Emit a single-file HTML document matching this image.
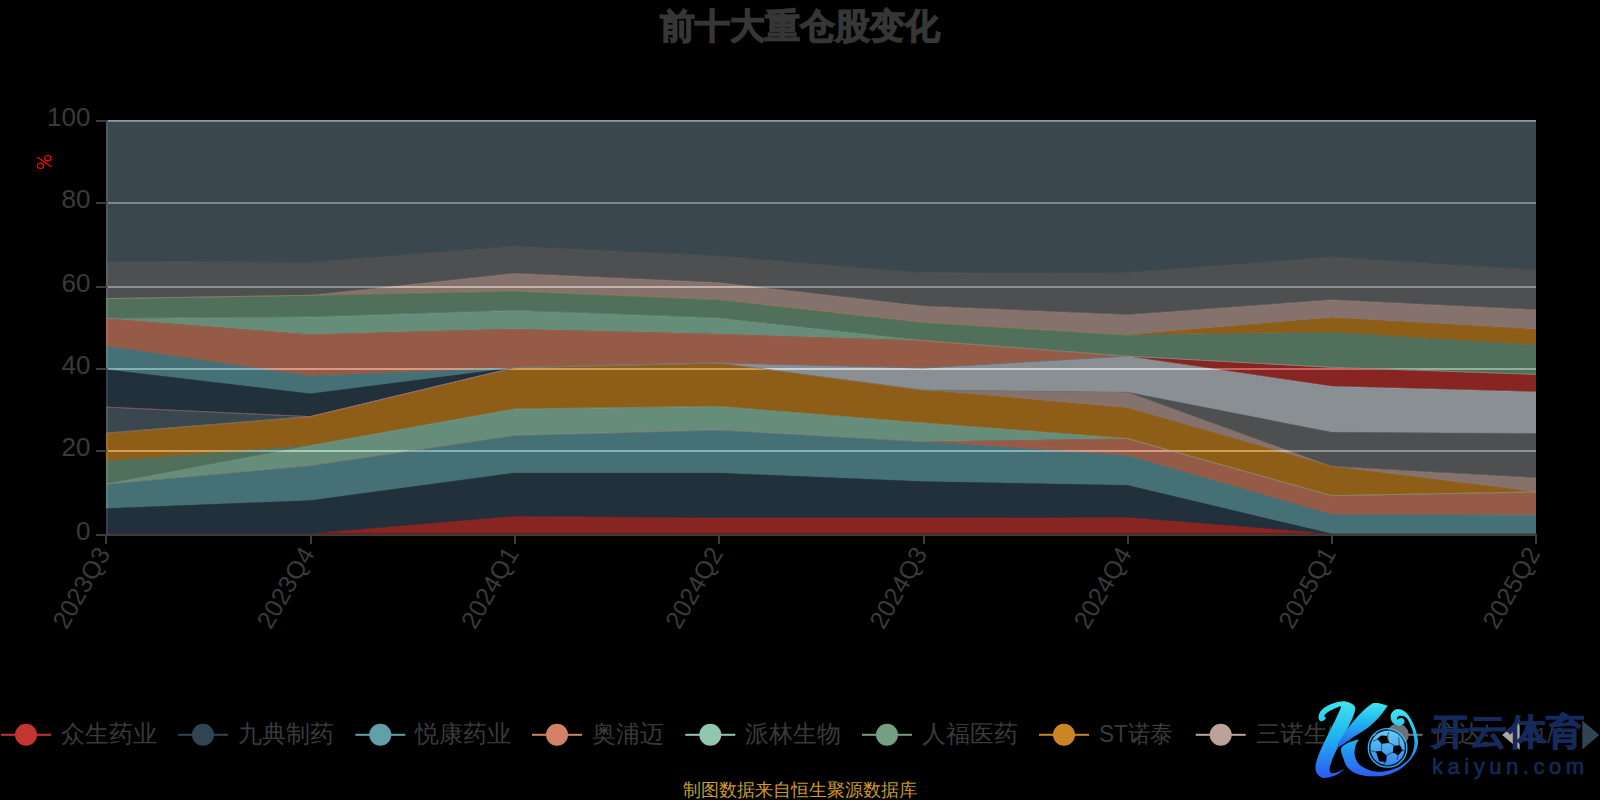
<!DOCTYPE html>
<html><head><meta charset="utf-8"><title>前十大重仓股变化</title>
<style>
html,body{margin:0;padding:0;background:#000;width:1600px;height:800px;overflow:hidden}
svg{display:block}
text{font-family:"Liberation Sans",sans-serif}
.ax{font-size:25px;fill:#3a3a3a}
.ay{font-size:26px;fill:#3a3a3a}
.lg{font-size:24px;fill:#3a3a3a}
.ttl{font-size:35px;font-weight:bold;fill:#363636;stroke:#363636;stroke-width:1.3}
.ft{font-size:18px;fill:#c99a2e}
</style></head>
<body>
<svg width="1600" height="800" viewBox="0 0 1600 800">
<rect width="1600" height="800" fill="#000"/>
<text x="800" y="37.5" text-anchor="middle" class="ttl">前十大重仓股变化</text>
<rect x="106" y="120" width="1430" height="2" fill="#d6d6d6"/><rect x="106" y="202" width="1430" height="2" fill="#d6d6d6"/><rect x="106" y="286" width="1430" height="2" fill="#d6d6d6"/><rect x="106" y="368" width="1430" height="2" fill="#d6d6d6"/><rect x="106" y="450" width="1430" height="2" fill="#d6d6d6"/><rect x="106" y="120" width="2" height="415" fill="#3c3c3c"/>
<polygon points="106,533.8 310.29,533.8 514.57,516.41 718.86,518.03 923.14,518.03 1127.43,517.61 1331.71,533.8 1536,533.8 1536,533.8 1331.71,533.8 1127.43,533.8 923.14,533.8 718.86,533.8 514.57,533.8 310.29,533.8 106,533.8" fill="#c23531" fill-opacity="0.7"/>
<polygon points="106,508.59 310.29,500.39 514.57,472.98 718.86,472.98 923.14,481.59 1127.43,485.32 1331.71,533.8 1536,533.8 1536,533.8 1331.71,533.8 1127.43,517.61 923.14,518.03 718.86,518.03 514.57,516.41 310.29,533.8 106,533.8" fill="#2f4554" fill-opacity="0.7"/>
<polygon points="106,484.08 310.29,465.61 514.57,435.39 718.86,430.01 923.14,441.6 1127.43,455.51 1331.71,514.38 1536,515 1536,533.8 1331.71,533.8 1127.43,485.32 923.14,481.59 718.86,472.98 514.57,472.98 310.29,500.39 106,508.59" fill="#61a0a8" fill-opacity="0.7"/>
<polygon points="106,484.08 310.29,465.61 514.57,435.39 718.86,430.01 923.14,441.6 1127.43,438.54 1331.71,495.67 1536,491.94 1536,515 1331.71,514.38 1127.43,455.51 923.14,441.6 718.86,430.01 514.57,435.39 310.29,465.61 106,484.08" fill="#d48265" fill-opacity="0.7"/>
<polygon points="106,484.08 310.29,445.58 514.57,409.02 718.86,406.41 923.14,423.01 1127.43,438.54 1331.71,495.67 1536,491.94 1536,491.94 1331.71,495.67 1127.43,438.54 923.14,441.6 718.86,430.01 514.57,435.39 310.29,465.61 106,484.08" fill="#91c7ae" fill-opacity="0.7"/>
<polygon points="106,460.89 310.29,445.58 514.57,409.02 718.86,406.41 923.14,423.01 1127.43,438.54 1331.71,495.67 1536,491.94 1536,491.94 1331.71,495.67 1127.43,438.54 923.14,423.01 718.86,406.41 514.57,409.02 310.29,445.58 106,484.08" fill="#749f83" fill-opacity="0.7"/>
<polygon points="106,433.16 310.29,416.6 514.57,367.62 718.86,362.98 923.14,390.1 1127.43,407.9 1331.71,466.4 1536,491.94 1536,491.94 1331.71,495.67 1127.43,438.54 923.14,423.01 718.86,406.41 514.57,409.02 310.29,445.58 106,460.89" fill="#ca8622" fill-opacity="0.7"/>
<polygon points="106,433.16 310.29,416.6 514.57,367.62 718.86,362.98 923.14,390.1 1127.43,392.17 1331.71,466.4 1536,477.87 1536,491.94 1331.71,466.4 1127.43,407.9 923.14,390.1 718.86,362.98 514.57,367.62 310.29,416.6 106,433.16" fill="#bda29a" fill-opacity="0.7"/>
<polygon points="106,433.16 310.29,416.6 514.57,367.62 718.86,362.98 923.14,390.1 1127.43,392.17 1331.71,432.33 1536,433.57 1536,477.87 1331.71,466.4 1127.43,392.17 923.14,390.1 718.86,362.98 514.57,367.62 310.29,416.6 106,433.16" fill="#6e7074" fill-opacity="0.7"/>
<polygon points="106,407.07 310.29,416.6 514.57,367.62 718.86,362.98 923.14,390.1 1127.43,392.17 1331.71,432.33 1536,433.57 1536,433.57 1331.71,432.33 1127.43,392.17 923.14,390.1 718.86,362.98 514.57,367.62 310.29,416.6 106,433.16" fill="#546570" fill-opacity="0.7"/>
<polygon points="106,407.07 310.29,416.6 514.57,367.62 718.86,362.98 923.14,367.99 1127.43,356.15 1331.71,386.37 1536,391.76 1536,433.57 1331.71,432.33 1127.43,392.17 923.14,390.1 718.86,362.98 514.57,367.62 310.29,416.6 106,407.07" fill="#c4ccd3" fill-opacity="0.7"/>
<polygon points="106,407.07 310.29,416.6 514.57,367.62 718.86,362.98 923.14,367.99 1127.43,356.15 1331.71,367.33 1536,374.37 1536,391.76 1331.71,386.37 1127.43,356.15 923.14,367.99 718.86,362.98 514.57,367.62 310.29,416.6 106,407.07" fill="#c23531" fill-opacity="0.7"/>
<polygon points="106,369.4 310.29,393.83 514.57,367.62 718.86,362.98 923.14,367.99 1127.43,356.15 1331.71,367.33 1536,374.37 1536,374.37 1331.71,367.33 1127.43,356.15 923.14,367.99 718.86,362.98 514.57,367.62 310.29,416.6 106,407.07" fill="#2f4554" fill-opacity="0.7"/>
<polygon points="106,346.01 310.29,376.02 514.57,367.62 718.86,362.98 923.14,367.99 1127.43,356.15 1331.71,367.33 1536,374.37 1536,374.37 1331.71,367.33 1127.43,356.15 923.14,367.99 718.86,362.98 514.57,367.62 310.29,393.83 106,369.4" fill="#61a0a8" fill-opacity="0.7"/>
<polygon points="106,318.48 310.29,334.42 514.57,328.99 718.86,334 923.14,340.59 1127.43,356.15 1331.71,367.33 1536,374.37 1536,374.37 1331.71,367.33 1127.43,356.15 923.14,367.99 718.86,362.98 514.57,367.62 310.29,376.02 106,346.01" fill="#d48265" fill-opacity="0.7"/>
<polygon points="106,318.48 310.29,316.99 514.57,310.41 718.86,318.06 923.14,340.59 1127.43,356.15 1331.71,367.33 1536,374.37 1536,374.37 1331.71,367.33 1127.43,356.15 923.14,340.59 718.86,334 514.57,328.99 310.29,334.42 106,318.48" fill="#91c7ae" fill-opacity="0.7"/>
<polygon points="106,298.61 310.29,295.29 514.57,291.15 718.86,299.6 923.14,322.41 1127.43,335.04 1331.71,332.14 1536,344.97 1536,374.37 1331.71,367.33 1127.43,356.15 923.14,340.59 718.86,318.06 514.57,310.41 310.29,316.99 106,318.48" fill="#749f83" fill-opacity="0.7"/>
<polygon points="106,298.61 310.29,295.29 514.57,291.15 718.86,299.6 923.14,322.41 1127.43,335.04 1331.71,317.65 1536,329.41 1536,344.97 1331.71,332.14 1127.43,335.04 923.14,322.41 718.86,299.6 514.57,291.15 310.29,295.29 106,298.61" fill="#ca8622" fill-opacity="0.7"/>
<polygon points="106,298.61 310.29,295.29 514.57,273.35 718.86,282.58 923.14,306.06 1127.43,314.75 1331.71,299.85 1536,309.78 1536,329.41 1331.71,317.65 1127.43,335.04 923.14,322.41 718.86,299.6 514.57,291.15 310.29,295.29 106,298.61" fill="#bda29a" fill-opacity="0.7"/>
<polygon points="106,261.76 310.29,262.38 514.57,246.03 718.86,255.96 923.14,272.94 1127.43,272.52 1331.71,257 1536,270.04 1536,309.78 1331.71,299.85 1127.43,314.75 923.14,306.06 718.86,282.58 514.57,273.35 310.29,295.29 106,298.61" fill="#6e7074" fill-opacity="0.7"/>
<polygon points="106,120.2 310.29,120.2 514.57,120.2 718.86,120.2 923.14,120.2 1127.43,120.2 1331.71,120.2 1536,120.2 1536,270.04 1331.71,257 1127.43,272.52 923.14,272.94 718.86,255.96 514.57,246.03 310.29,262.38 106,261.76" fill="#546570" fill-opacity="0.7"/>
<polyline points="106,533.8 310.29,533.8 514.57,516.41 718.86,518.03 923.14,518.03 1127.43,517.61 1331.71,533.8 1536,533.8" fill="none" stroke="#c23531" stroke-width="1" stroke-opacity="0.3"/>
<polyline points="106,508.59 310.29,500.39 514.57,472.98 718.86,472.98 923.14,481.59 1127.43,485.32 1331.71,533.8 1536,533.8" fill="none" stroke="#2f4554" stroke-width="1" stroke-opacity="0.3"/>
<polyline points="106,484.08 310.29,465.61 514.57,435.39 718.86,430.01 923.14,441.6 1127.43,455.51 1331.71,514.38 1536,515" fill="none" stroke="#61a0a8" stroke-width="1" stroke-opacity="0.3"/>
<polyline points="106,484.08 310.29,465.61 514.57,435.39 718.86,430.01 923.14,441.6 1127.43,438.54 1331.71,495.67 1536,491.94" fill="none" stroke="#d48265" stroke-width="1" stroke-opacity="0.3"/>
<polyline points="106,484.08 310.29,445.58 514.57,409.02 718.86,406.41 923.14,423.01 1127.43,438.54 1331.71,495.67 1536,491.94" fill="none" stroke="#91c7ae" stroke-width="1" stroke-opacity="0.3"/>
<polyline points="106,460.89 310.29,445.58 514.57,409.02 718.86,406.41 923.14,423.01 1127.43,438.54 1331.71,495.67 1536,491.94" fill="none" stroke="#749f83" stroke-width="1" stroke-opacity="0.3"/>
<polyline points="106,433.16 310.29,416.6 514.57,367.62 718.86,362.98 923.14,390.1 1127.43,407.9 1331.71,466.4 1536,491.94" fill="none" stroke="#ca8622" stroke-width="1" stroke-opacity="0.3"/>
<polyline points="106,433.16 310.29,416.6 514.57,367.62 718.86,362.98 923.14,390.1 1127.43,392.17 1331.71,466.4 1536,477.87" fill="none" stroke="#bda29a" stroke-width="1" stroke-opacity="0.3"/>
<polyline points="106,433.16 310.29,416.6 514.57,367.62 718.86,362.98 923.14,390.1 1127.43,392.17 1331.71,432.33 1536,433.57" fill="none" stroke="#6e7074" stroke-width="1" stroke-opacity="0.3"/>
<polyline points="106,407.07 310.29,416.6 514.57,367.62 718.86,362.98 923.14,390.1 1127.43,392.17 1331.71,432.33 1536,433.57" fill="none" stroke="#546570" stroke-width="1" stroke-opacity="0.3"/>
<polyline points="106,407.07 310.29,416.6 514.57,367.62 718.86,362.98 923.14,367.99 1127.43,356.15 1331.71,386.37 1536,391.76" fill="none" stroke="#c4ccd3" stroke-width="1" stroke-opacity="0.3"/>
<polyline points="106,407.07 310.29,416.6 514.57,367.62 718.86,362.98 923.14,367.99 1127.43,356.15 1331.71,367.33 1536,374.37" fill="none" stroke="#c23531" stroke-width="1" stroke-opacity="0.3"/>
<polyline points="106,369.4 310.29,393.83 514.57,367.62 718.86,362.98 923.14,367.99 1127.43,356.15 1331.71,367.33 1536,374.37" fill="none" stroke="#2f4554" stroke-width="1" stroke-opacity="0.3"/>
<polyline points="106,346.01 310.29,376.02 514.57,367.62 718.86,362.98 923.14,367.99 1127.43,356.15 1331.71,367.33 1536,374.37" fill="none" stroke="#61a0a8" stroke-width="1" stroke-opacity="0.3"/>
<polyline points="106,318.48 310.29,334.42 514.57,328.99 718.86,334 923.14,340.59 1127.43,356.15 1331.71,367.33 1536,374.37" fill="none" stroke="#d48265" stroke-width="1" stroke-opacity="0.3"/>
<polyline points="106,318.48 310.29,316.99 514.57,310.41 718.86,318.06 923.14,340.59 1127.43,356.15 1331.71,367.33 1536,374.37" fill="none" stroke="#91c7ae" stroke-width="1" stroke-opacity="0.3"/>
<polyline points="106,298.61 310.29,295.29 514.57,291.15 718.86,299.6 923.14,322.41 1127.43,335.04 1331.71,332.14 1536,344.97" fill="none" stroke="#749f83" stroke-width="1" stroke-opacity="0.3"/>
<polyline points="106,298.61 310.29,295.29 514.57,291.15 718.86,299.6 923.14,322.41 1127.43,335.04 1331.71,317.65 1536,329.41" fill="none" stroke="#ca8622" stroke-width="1" stroke-opacity="0.3"/>
<polyline points="106,298.61 310.29,295.29 514.57,273.35 718.86,282.58 923.14,306.06 1127.43,314.75 1331.71,299.85 1536,309.78" fill="none" stroke="#bda29a" stroke-width="1" stroke-opacity="0.3"/>
<polyline points="106,261.76 310.29,262.38 514.57,246.03 718.86,255.96 923.14,272.94 1127.43,272.52 1331.71,257 1536,270.04" fill="none" stroke="#6e7074" stroke-width="1" stroke-opacity="0.3"/>
<rect x="106" y="534" width="1431" height="2" fill="#3c3c3c"/><rect x="105" y="534" width="2" height="10" fill="#3c3c3c"/><rect x="310" y="534" width="2" height="10" fill="#3c3c3c"/><rect x="514" y="534" width="2" height="10" fill="#3c3c3c"/><rect x="718" y="534" width="2" height="10" fill="#3c3c3c"/><rect x="923" y="534" width="2" height="10" fill="#3c3c3c"/><rect x="1127" y="534" width="2" height="10" fill="#3c3c3c"/><rect x="1331" y="534" width="2" height="10" fill="#3c3c3c"/><rect x="1535" y="534" width="2" height="10" fill="#3c3c3c"/><rect x="96" y="120" width="11" height="2" fill="#3c3c3c"/><rect x="96" y="202" width="11" height="2" fill="#3c3c3c"/><rect x="96" y="286" width="11" height="2" fill="#3c3c3c"/><rect x="96" y="368" width="11" height="2" fill="#3c3c3c"/><rect x="96" y="450" width="11" height="2" fill="#3c3c3c"/><rect x="96" y="534" width="11" height="2" fill="#3c3c3c"/><text x="90.5" y="125.5" text-anchor="end" class="ay">100</text><text x="90.5" y="207.5" text-anchor="end" class="ay">80</text><text x="90.5" y="291.5" text-anchor="end" class="ay">60</text><text x="90.5" y="373.5" text-anchor="end" class="ay">40</text><text x="90.5" y="455.5" text-anchor="end" class="ay">20</text><text x="90.5" y="539.5" text-anchor="end" class="ay">0</text><text transform="translate(104,549.5) rotate(-60)" text-anchor="end" class="ax" dy="8">2023Q3</text><text transform="translate(308.29,549.5) rotate(-60)" text-anchor="end" class="ax" dy="8">2023Q4</text><text transform="translate(512.57,549.5) rotate(-60)" text-anchor="end" class="ax" dy="8">2024Q1</text><text transform="translate(716.86,549.5) rotate(-60)" text-anchor="end" class="ax" dy="8">2024Q2</text><text transform="translate(921.14,549.5) rotate(-60)" text-anchor="end" class="ax" dy="8">2024Q3</text><text transform="translate(1125.43,549.5) rotate(-60)" text-anchor="end" class="ax" dy="8">2024Q4</text><text transform="translate(1329.71,549.5) rotate(-60)" text-anchor="end" class="ax" dy="8">2025Q1</text><text transform="translate(1534,549.5) rotate(-60)" text-anchor="end" class="ax" dy="8">2025Q2</text>
<g fill="none" stroke="#ff0000" stroke-width="1.15"><ellipse cx="47.8" cy="158.2" rx="3.1" ry="2.7"/><ellipse cx="40.4" cy="165.8" rx="3.1" ry="2.7"/><line x1="37" y1="157" x2="51.2" y2="166.8"/></g>
<clipPath id="lc"><rect x="0" y="700" width="1488" height="70"/></clipPath><g clip-path="url(#lc)"><rect x="1" y="733.8" width="50" height="2" fill="#c23531"/><circle cx="26" cy="734.8" r="11" fill="#c23531"/><text x="61" y="741.5" class="lg">众生药业</text><rect x="178" y="733.8" width="50" height="2" fill="#2f4554"/><circle cx="203" cy="734.8" r="11" fill="#2f4554"/><text x="238" y="741.5" class="lg">九典制药</text><rect x="355.3" y="733.8" width="50" height="2" fill="#61a0a8"/><circle cx="380.3" cy="734.8" r="11" fill="#61a0a8"/><text x="415.3" y="741.5" class="lg">悦康药业</text><rect x="532" y="733.8" width="50" height="2" fill="#d48265"/><circle cx="557" cy="734.8" r="11" fill="#d48265"/><text x="592" y="741.5" class="lg">奥浦迈</text><rect x="685.3" y="733.8" width="50" height="2" fill="#91c7ae"/><circle cx="710.3" cy="734.8" r="11" fill="#91c7ae"/><text x="745.3" y="741.5" class="lg">派林生物</text><rect x="862" y="733.8" width="50" height="2" fill="#749f83"/><circle cx="887" cy="734.8" r="11" fill="#749f83"/><text x="922" y="741.5" class="lg">人福医药</text><rect x="1039" y="733.8" width="50" height="2" fill="#ca8622"/><circle cx="1064" cy="734.8" r="11" fill="#ca8622"/><text x="1099" y="741.5" class="lg" textLength="74" lengthAdjust="spacingAndGlyphs">ST诺泰</text><rect x="1195.7" y="733.8" width="50" height="2" fill="#bda29a"/><circle cx="1220.7" cy="734.8" r="11" fill="#bda29a"/><text x="1255.7" y="741.5" class="lg">三诺生物</text><rect x="1372.7" y="733.8" width="50" height="2" fill="#6e7074"/><circle cx="1397.7" cy="734.8" r="11" fill="#6e7074"/><text x="1432.7" y="741.5" class="lg">信达生物</text></g>
<text x="800" y="796" text-anchor="middle" class="ft">制图数据来自恒生聚源数据库</text>

<defs>
<linearGradient id="kg" x1="0" y1="0" x2="0" y2="1">
<stop offset="0" stop-color="#3ee6ec"/><stop offset="0.45" stop-color="#1fb4f2"/><stop offset="1" stop-color="#2b5cf0"/>
</linearGradient>
<linearGradient id="bg" x1="0" y1="0" x2="0" y2="1">
<stop offset="0" stop-color="#62cdf6"/><stop offset="1" stop-color="#3486ee"/>
</linearGradient>
</defs>
<g>
<!-- page info + arrows (under logo) -->
<text x="1535" y="743" style="font-size:22px;fill:#333">1/2</text>
<polygon points="1502.2,735 1519.6,719.8 1519.6,749.7" fill="#aaaaaa"/>
<polygon points="1599.3,735 1582.3,720.5 1582.3,749.4" fill="#2f4554"/>
</g>
<g>
<path fill="url(#kg)" d="M1354.1,705.6 C1352.5,703.9 1348.9,701.6 1345.1,701.4 C1341.3,701.1 1335.2,702.6 1331.3,704.0 C1327.4,705.4 1323.8,707.8 1321.7,709.9 C1319.6,711.9 1318.8,714.4 1318.5,716.3 C1318.2,718.1 1319.2,720.3 1320.1,721.0 C1321.0,721.7 1322.8,721.0 1323.8,720.5 C1324.8,720.0 1325.9,718.6 1325.9,717.8 C1326.0,717.1 1324.0,716.7 1324.3,715.7 C1324.7,714.7 1326.0,713.3 1328.1,712.0 C1330.1,710.7 1334.4,708.5 1336.6,707.8 C1338.7,707.0 1341.0,705.3 1340.8,707.2 C1340.6,709.2 1337.8,714.6 1335.5,719.4 C1333.2,724.3 1329.7,731.0 1327.0,736.4 C1324.3,741.9 1321.4,747.8 1319.6,752.4 C1317.7,757.0 1316.4,760.7 1315.8,764.1 C1315.3,767.4 1315.2,770.3 1316.4,772.6 C1317.5,774.9 1319.7,777.4 1322.8,777.9 C1325.8,778.4 1330.9,777.2 1334.4,775.8 C1338.0,774.3 1343.7,769.9 1344.0,769.4 C1344.4,768.9 1338.7,772.0 1336.6,772.6 C1334.4,773.2 1332.4,773.6 1331.3,773.1 C1330.1,772.6 1329.7,770.9 1329.7,769.4 C1329.6,767.9 1329.9,766.6 1330.7,764.1 C1331.5,761.6 1332.6,758.6 1334.4,754.5 C1336.3,750.4 1339.2,744.9 1341.9,739.6 C1344.5,734.3 1348.3,727.2 1350.4,722.6 C1352.5,718.0 1354.0,714.8 1354.6,712.0 C1355.3,709.2 1355.7,707.4 1354.1,705.6Z"/>
<path fill="url(#kg)" d="M1386.8,705.6 C1385.1,705.0 1379.5,703.2 1376.7,703.1 C1373.9,703.0 1373.2,702.8 1370.0,705.0 C1366.9,707.2 1362.0,711.7 1357.8,716.3 C1353.7,720.8 1348.4,727.1 1345.1,732.2 C1341.7,737.3 1336.2,746.2 1337.6,747.0 C1339.1,747.7 1348.4,740.2 1353.8,736.7 C1359.2,733.2 1365.7,729.4 1370.0,725.9 C1374.4,722.5 1377.2,719.2 1380.0,716.0 C1382.8,712.9 1385.8,708.5 1386.9,706.8 C1388.1,705.1 1388.5,706.2 1386.8,705.6Z"/>
<path fill="url(#kg)" d="M1341.9,747.1 C1339.5,750.3 1342.4,755.2 1343.5,758.8 C1344.5,762.3 1345.9,765.8 1348.3,768.3 C1350.6,770.9 1353.9,772.8 1357.8,774.2 C1361.7,775.5 1366.9,776.2 1371.6,776.3 C1376.4,776.4 1381.7,776.2 1386.5,774.9 C1391.3,773.7 1396.1,771.7 1400.3,768.9 C1404.6,766.0 1409.1,761.7 1412.0,757.7 C1414.9,753.7 1417.0,748.9 1417.8,744.9 C1418.5,740.9 1417.5,737.4 1416.7,733.7 C1415.8,729.9 1414.4,726.1 1412.7,722.5 C1410.9,719.0 1408.4,714.7 1406.0,712.4 C1403.5,710.2 1400.4,709.0 1398.1,709.0 C1395.8,709.0 1393.2,710.8 1391.9,712.4 C1390.7,714.0 1390.5,716.7 1390.8,718.6 C1391.0,720.5 1392.2,722.4 1393.6,723.6 C1395.0,724.8 1397.5,725.9 1399.2,725.9 C1400.8,725.9 1402.9,724.5 1403.7,723.6 C1404.6,722.6 1404.6,721.1 1404.3,720.2 C1403.9,719.2 1402.5,718.1 1401.5,718.0 C1400.5,717.8 1398.8,718.8 1398.1,719.1 C1397.4,719.5 1397.1,720.6 1397.0,720.2 C1396.9,719.8 1396.8,717.6 1397.6,716.9 C1398.3,716.1 1400.0,715.5 1401.5,715.7 C1403.0,715.9 1405.1,716.4 1406.6,718.0 C1408.1,719.5 1409.4,722.7 1410.5,725.3 C1411.6,727.9 1412.7,730.4 1413.3,733.7 C1413.9,737.0 1414.9,740.9 1414.4,744.9 C1413.8,748.9 1412.6,754.0 1409.9,757.7 C1407.2,761.4 1402.6,765.0 1398.2,767.3 C1393.8,769.6 1388.1,771.0 1383.3,771.5 C1378.5,772.0 1373.6,771.5 1369.5,770.2 C1365.4,769.0 1361.4,766.7 1358.9,764.1 C1356.4,761.5 1355.2,757.7 1354.6,754.5 C1354.1,751.3 1355.2,747.4 1355.7,744.9 C1356.2,742.5 1360.1,739.3 1357.8,739.6 C1355.5,740.0 1344.3,743.9 1341.9,747.1Z"/>
<circle cx="1387.6" cy="747.9" r="19.3" fill="none" stroke="#39b4f2" stroke-width="1.3"/>
<path fill="url(#bg)" fill-rule="evenodd" d="M1370.0,747.9 A17.6,17.6 0 1,0 1405.2,747.9 A17.6,17.6 0 1,0 1370.0,747.9 Z M1377.2,738.8 L1381.5,735.0 L1388.5,736.0 L1389.2,743.1 L1381.5,743.8Z M1393.5,745.4 L1399.8,744.7 L1402.6,750.3 L1398.4,755.2 L1392.8,752.4Z M1375.9,751.5 L1381.2,750.8 L1386.8,755.7 L1386.1,762.0 L1379.1,761.3Z"/>
<line x1="1378.5" y1="738.9" x2="1372.9" y2="741.2" stroke="#000" stroke-width="0.9" stroke-opacity="0.6"/>
<line x1="1387.5" y1="736.7" x2="1388.6" y2="732.2" stroke="#000" stroke-width="0.9" stroke-opacity="0.6"/>
<line x1="1381.9" y1="742.9" x2="1381.3" y2="750.2" stroke="#000" stroke-width="0.9" stroke-opacity="0.6"/>
<line x1="1388.1" y1="742.3" x2="1393.7" y2="745.1" stroke="#000" stroke-width="0.9" stroke-opacity="0.6"/>
<line x1="1393.7" y1="751.9" x2="1386.4" y2="755.2" stroke="#000" stroke-width="0.9" stroke-opacity="0.6"/>
<line x1="1401.6" y1="750.2" x2="1405.5" y2="750.7" stroke="#000" stroke-width="0.9" stroke-opacity="0.6"/>
<line x1="1398.2" y1="754.1" x2="1397.1" y2="759.7" stroke="#000" stroke-width="0.9" stroke-opacity="0.6"/>
<line x1="1385.2" y1="760.9" x2="1383.6" y2="764.8" stroke="#000" stroke-width="0.9" stroke-opacity="0.6"/>
<line x1="1377.1" y1="752.4" x2="1371.2" y2="750.7" stroke="#000" stroke-width="0.9" stroke-opacity="0.6"/>
<line x1="1399.3" y1="745.7" x2="1398.7" y2="737.2" stroke="#000" stroke-width="0.9" stroke-opacity="0.6"/>
<circle cx="1387.6" cy="747.9" r="17.6" fill="none" stroke="#0a2a50" stroke-width="0.9"/>
</g>
<text x="1430.5" y="743.5" textLength="154" lengthAdjust="spacingAndGlyphs" style="font-size:36px;font-weight:bold;fill:#15295a;stroke:#15295a;stroke-width:0.8">开云体育</text>
<text x="1432" y="774" textLength="152" lengthAdjust="spacing" style="font-size:22px;fill:#15295a;stroke:#15295a;stroke-width:0.6">kaiyun.com</text>

</svg>
</body></html>
